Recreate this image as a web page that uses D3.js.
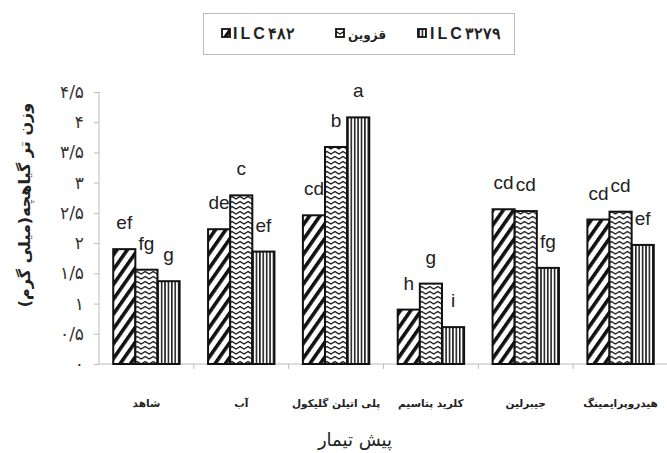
<!DOCTYPE html>
<html>
<head>
<meta charset="utf-8">
<script src="https://cdn.jsdelivr.net/npm/d3@7/dist/d3.min.js"></script>
<style>
  html, body { margin: 0; padding: 0; background: #fff; }
  svg { display: block; }
</style>
</head>
<body>
<svg id="chart" width="667" height="453"></svg>
<script>
const categories = ["شاهد", "آب", "پلی اتیلن گلیکول", "کلرید پتاسیم", "جیبرلین", "هیدروپرایمینگ"];
const seriesNames = ["ILC۴۸۲", "قزوین", "ILC۳۲۷۹"];
const ilc482 = [1.90, 2.23, 2.46, 0.90, 2.56, 2.39];
const qazvin = [1.56, 2.79, 3.59, 1.33, 2.53, 2.52];
const ilc3279 = [1.37, 1.86, 4.08, 0.61, 1.59, 1.97];
const letters482 = ["ef", "de", "cd", "h", "cd", "cd"];
const lettersQaz = ["fg", "c", "b", "g", "cd", "cd"];
const letters3279 = ["g", "ef", "a", "i", "fg", "ef"];
const yTicks = [0, 0.5, 1, 1.5, 2, 2.5, 3, 3.5, 4, 4.5];
const yTickLabels = ["۰", "۰/۵", "۱", "۱/۵", "۲", "۲/۵", "۳", "۳/۵", "۴", "۴/۵"];
const yTitle = "وزن تر گیاهچه(میلی گرم)";
const xTitle = "پیش تیمار";

const seriesValues = [ilc482, qazvin, ilc3279];
const seriesLetters = [letters482, lettersQaz, letters3279];

const svg = d3.select("#chart");
const defs = svg.append("defs");

// pattern 0: thick diagonal stripes "/"
const p0 = defs.append("pattern").attr("id", "pat0").attr("patternUnits", "userSpaceOnUse")
  .attr("width", 8.5).attr("height", 8.5).attr("patternTransform", "rotate(35)");
p0.append("rect").attr("width", 8.5).attr("height", 8.5).attr("fill", "#fff");
p0.append("rect").attr("x", 0).attr("width", 3.6).attr("height", 8.5).attr("fill", "#111");

// pattern 1: zigzag horizontal lines
const p1 = defs.append("pattern").attr("id", "pat1").attr("patternUnits", "userSpaceOnUse")
  .attr("width", 8).attr("height", 5);
p1.append("rect").attr("width", 8).attr("height", 5).attr("fill", "#fff");
p1.append("path").attr("d", "M-2,4 L0,1.5 L4,4 L8,1.5 L12,4")
  .attr("fill", "none").attr("stroke", "#111").attr("stroke-width", 1.1);

// pattern 2: vertical thin stripes
const p2 = defs.append("pattern").attr("id", "pat2").attr("patternUnits", "userSpaceOnUse")
  .attr("width", 3.4).attr("height", 4);
p2.append("rect").attr("width", 3.4).attr("height", 4).attr("fill", "#fff");
p2.append("rect").attr("x", 0).attr("width", 1.6).attr("height", 4).attr("fill", "#222");

const x0 = d3.scaleBand().domain(categories).range([99, 668]).paddingInner(0.3).paddingOuter(0.15);
const x1 = d3.scaleBand().domain(d3.range(seriesNames.length)).range([0, x0.bandwidth()]);
const y = d3.scaleLinear().domain([0, 4.5]).range([364, 92]);

// y axis
const yAxis = d3.axisLeft(y).tickValues(yTicks).tickSize(5).tickPadding(10)
  .tickFormat((d, i) => yTickLabels[i]);
const gy = svg.append("g").attr("transform", "translate(99,0)").call(yAxis);
gy.select(".domain").attr("stroke", "#bbb").attr("d", "M0," + y(4.5) + "V" + y(0));
gy.selectAll(".tick line").attr("stroke", "#bbb");
gy.selectAll(".tick text").attr("font-family", "DejaVu Sans").attr("font-size", 17).attr("fill", "#333");

// x axis (line + boundary ticks)
const boundaries = categories.map(c => x0(c) - x0.step() * x0.paddingInner() / 2).concat([668]);
svg.append("line").attr("x1", 99).attr("x2", 668).attr("y1", y(0)).attr("y2", y(0))
  .attr("stroke", "#bbb");
svg.selectAll(".xtick").data(boundaries.slice(1)).enter().append("line")
  .attr("x1", d => d).attr("x2", d => d).attr("y1", y(0)).attr("y2", y(0) + 5)
  .attr("stroke", "#bbb");

// bars
const groups = svg.selectAll(".grp").data(categories).enter().append("g")
  .attr("transform", c => "translate(" + x0(c) + ",0)");
groups.each(function (c, ci) {
  const g = d3.select(this);
  seriesValues.forEach((vals, si) => {
    g.append("rect")
      .attr("x", x1(si)).attr("y", y(vals[ci]))
      .attr("width", x1.bandwidth()).attr("height", y(0) - y(vals[ci]))
      .attr("fill", "url(#pat" + si + ")").attr("stroke", "#111").attr("stroke-width", 2);
    g.append("text")
      .attr("x", x1(si) + x1.bandwidth() / 2).attr("y", y(vals[ci]) - 20)
      .attr("text-anchor", "middle").attr("font-family", "Liberation Sans, Arial, sans-serif")
      .attr("font-size", 19).attr("fill", "#222").text(seriesLetters[si][ci]);
  });
});

// category labels
svg.selectAll(".cat").data(categories).enter().append("text")
  .attr("x", c => x0(c) + x0.bandwidth() / 2).attr("y", 407)
  .attr("text-anchor", "middle").attr("font-family", "DejaVu Sans").attr("font-weight", "bold")
  .attr("font-size", 10.5).attr("fill", "#222").attr("direction", "rtl").text(c => c);

// x title
svg.append("text").attr("x", 355).attr("y", 446).attr("text-anchor", "middle")
  .attr("font-family", "DejaVu Sans").attr("font-size", 18).attr("fill", "#222")
  .attr("direction", "rtl").text(xTitle);

// y title
svg.append("text").attr("transform", "translate(30,205) rotate(-90)")
  .attr("text-anchor", "middle").attr("font-family", "DejaVu Sans").attr("font-size", 16)
  .attr("font-weight", "bold").attr("fill", "#222").attr("direction", "rtl").text(yTitle);

// legend
svg.append("rect").attr("x", 203.5).attr("y", 13.5).attr("width", 311).attr("height", 41)
  .attr("fill", "#fff").attr("stroke", "#bbb").attr("stroke-width", 1);
const legendItems = [
  { sx: 222, tx: 233, size: 16, spacing: 3 },
  { sx: 336, tx: 348, size: 12, spacing: 0 },
  { sx: 418, tx: 430, size: 16, spacing: 3 }
];
legendItems.forEach((it, i) => {
  svg.append("rect").attr("x", it.sx).attr("y", 29).attr("width", 8).attr("height", 8)
    .attr("fill", "url(#pat" + i + ")").attr("stroke", "#111").attr("stroke-width", 1.8);
  svg.append("text").attr("x", it.tx).attr("y", 39)
    .attr("font-family", i === 1 ? "DejaVu Sans" : "Liberation Sans, Arial, sans-serif")
    .attr("font-weight", "bold").attr("font-size", it.size).attr("fill", "#222")
    .attr("letter-spacing", it.spacing).text(seriesNames[i]);
});
</script>
</body>
</html>
